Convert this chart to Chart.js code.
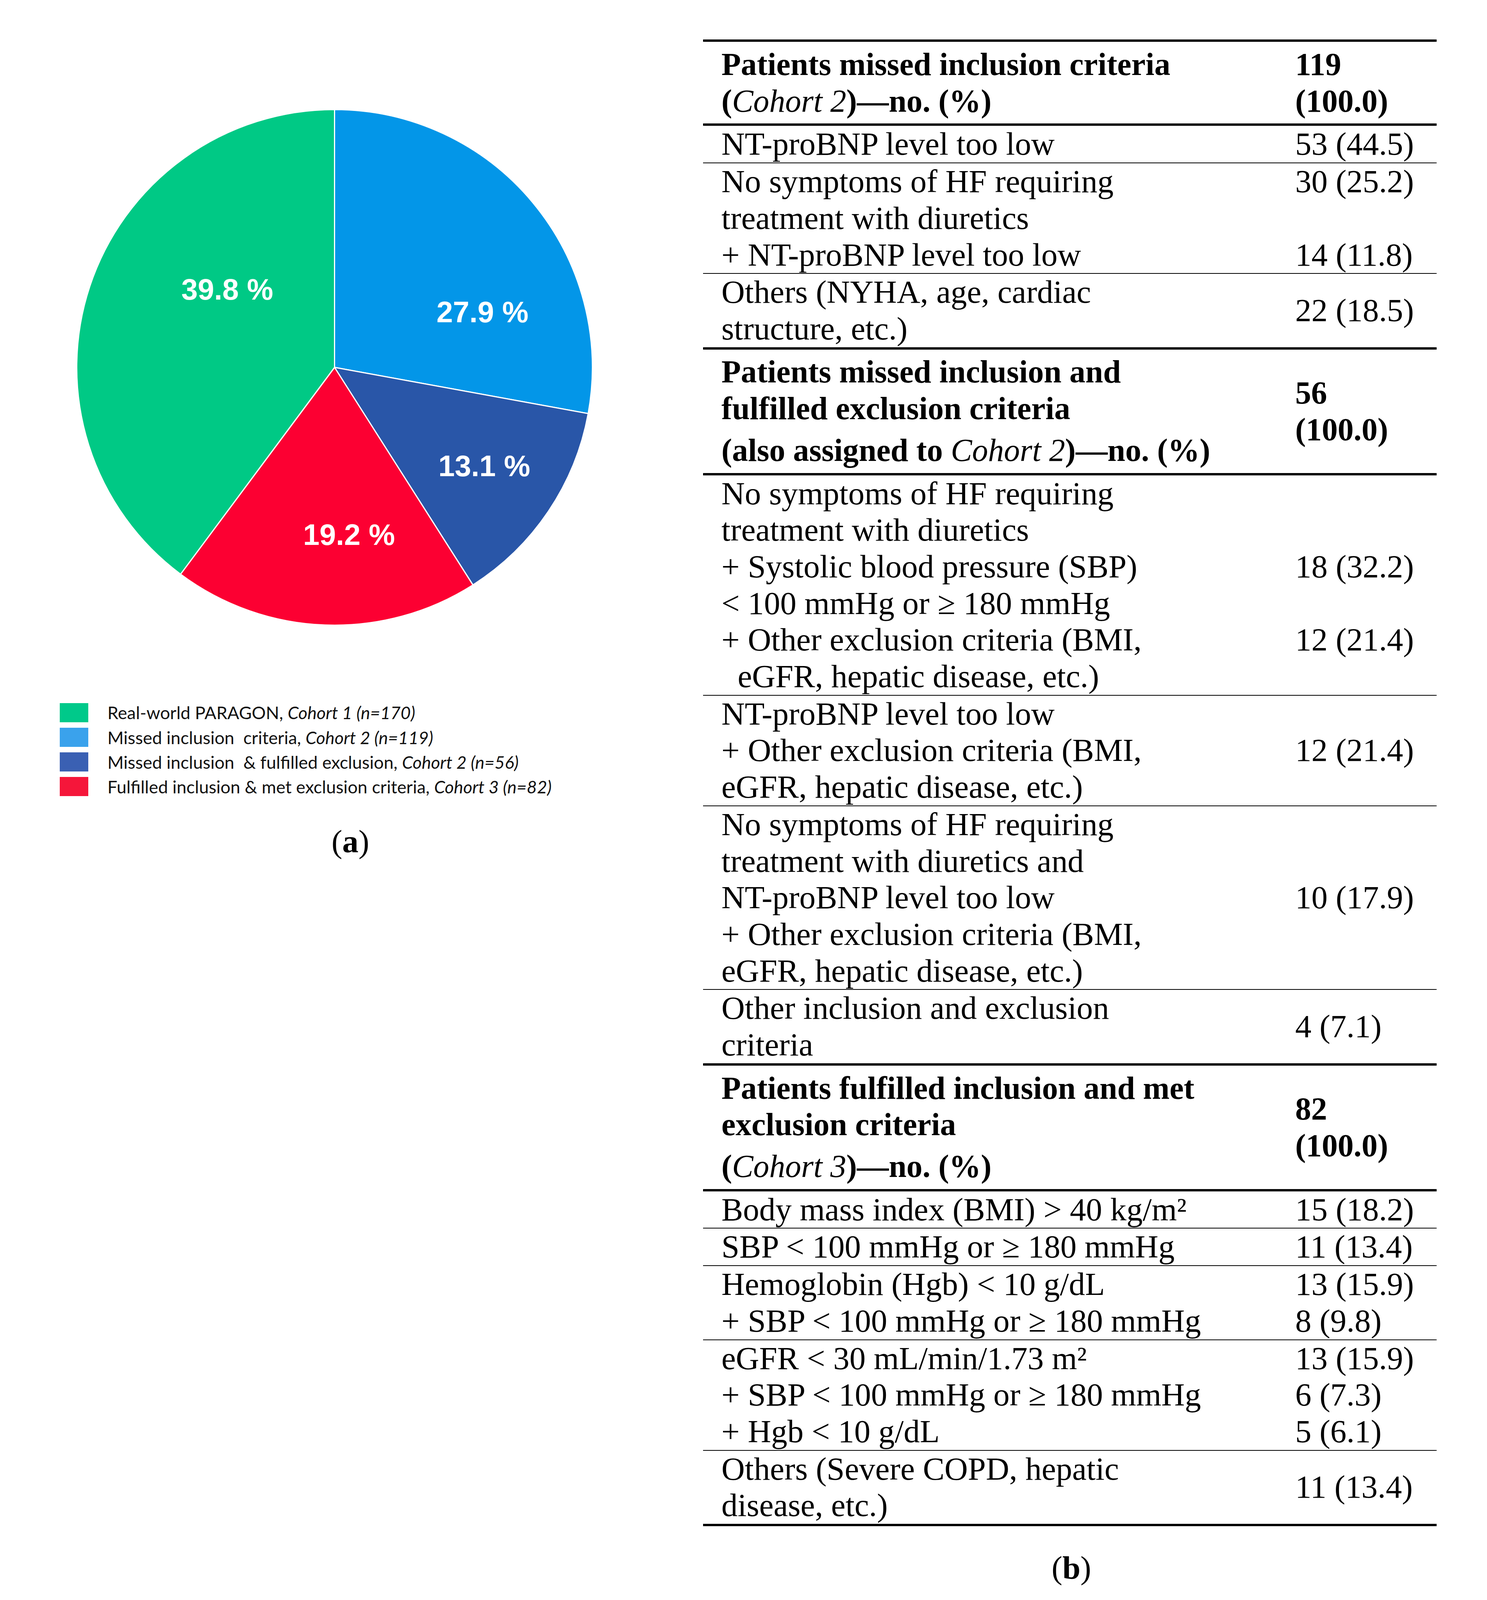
<!DOCTYPE html>
<html>
<head>
<meta charset="utf-8">
<script src="https://cdn.jsdelivr.net/npm/chart.js@4.4.1/dist/chart.umd.min.js"></script>
<style>
  html, body { margin: 0; padding: 0; background: #fff; overflow: hidden; }
  #page { position: relative; width: 100vw; height: 100vh; overflow: hidden; }
  #pie { position: absolute; }
  #legend { position: absolute; font-family: Lato, "Open Sans", sans-serif; color: #111; }
  .lg-row { display: flex; align-items: center; }
  .lg-box { flex: none; }
  .lg-text { white-space: pre; }
  #tbl { position: absolute; font-family: "Liberation Serif", serif; color: #000; }
  .row { display: flex; align-items: center; box-sizing: border-box; border-top: 2px solid #000; }
  .row.thick { border-top-width: 6px; }
  .col-l { box-sizing: border-box; flex: none; }
  .col-r { flex: 1; }
  .line { white-space: pre; }
  .head { font-weight: bold; }
  .head i { font-weight: normal; }
  #tbl-end { border-top: 6px solid #000; }
  .cap { position: absolute; transform: translate(-50%, -50%); font-family: "Liberation Serif", serif; white-space: pre; }
</style>
</head>
<body>
<div id="page">
  <canvas id="pie"></canvas>
  <div id="legend"></div>
  <div class="cap" id="capA">(<b>a</b>)</div>
  <div id="tbl"></div>
  <div class="cap" id="capB">(<b>b</b>)</div>
</div>
<script>
// legend order
const categories = ["Real-world PARAGON", "Missed inclusion  criteria", "Missed inclusion  & fulfilled exclusion", "Fulfilled inclusion & met exclusion criteria"];
const cohorts = ["Cohort 1", "Cohort 2", "Cohort 2", "Cohort 3"];
const patients = [170, 119, 56, 82];
// slices clockwise from 12 o'clock
const pieOrder = [1, 2, 3, 0];

const sliceColors = ["#00C985", "#0396E8", "#2956A8", "#FC0032"];
const legendColors = ["#00C98A", "#3AA2EC", "#3A60B3", "#F5163A"];
// label placement per slice (pie order): angle shift in degrees, distance as share of radius
const labelShift = [20, 0, -7, 17];
const labelDist = [0.61, 0.70, 0.66, 0.51];

// table (b): left column lines, right column lines; *...* is italic
const tableRows = [
  { head: true, left: ["Patients missed inclusion criteria", "(*Cohort 2*)\u2014no. (%)"], right: [String(patients[1]), "(100.0)"] },
  { left: ["NT-proBNP level too low"], right: ["53 (44.5)"] },
  { left: ["No symptoms of HF requiring", "treatment with diuretics", "+ NT-proBNP level too low"], right: ["30 (25.2)", "", "14 (11.8)"] },
  { left: ["Others (NYHA, age, cardiac", "structure, etc.)"], right: ["22 (18.5)"] },
  { head: true, left: ["Patients missed inclusion and", "fulfilled exclusion criteria", "(also assigned to *Cohort 2*)\u2014no. (%)"], right: [String(patients[2]), "(100.0)"] },
  { left: ["No symptoms of HF requiring", "treatment with diuretics", "+ Systolic blood pressure (SBP)", "< 100 mmHg or \u2265 180 mmHg", "+ Other exclusion criteria (BMI,", "  eGFR, hepatic disease, etc.)"], right: ["", "", "18 (32.2)", "", "12 (21.4)", ""] },
  { left: ["NT-proBNP level too low", "+ Other exclusion criteria (BMI,", "eGFR, hepatic disease, etc.)"], right: ["12 (21.4)"] },
  { left: ["No symptoms of HF requiring", "treatment with diuretics and", "NT-proBNP level too low", "+ Other exclusion criteria (BMI,", "eGFR, hepatic disease, etc.)"], right: ["10 (17.9)"] },
  { left: ["Other inclusion and exclusion", "criteria"], right: ["4 (7.1)"] },
  { head: true, left: ["Patients fulfilled inclusion and met", "exclusion criteria", "(*Cohort 3*)\u2014no. (%)"], right: [String(patients[3]), "(100.0)"] },
  { left: ["Body mass index (BMI) > 40 kg/m\u00B2"], right: ["15 (18.2)"] },
  { left: ["SBP < 100 mmHg or \u2265 180 mmHg"], right: ["11 (13.4)"] },
  { left: ["Hemoglobin (Hgb) < 10 g/dL", "+ SBP < 100 mmHg or \u2265 180 mmHg"], right: ["13 (15.9)", "8 (9.8)"] },
  { left: ["eGFR < 30 mL/min/1.73 m\u00B2", "+ SBP < 100 mmHg or \u2265 180 mmHg", "+ Hgb < 10 g/dL"], right: ["13 (15.9)", "6 (7.3)", "5 (6.1)"] },
  { left: ["Others (Severe COPD, hepatic", "disease, etc.)"], right: ["11 (13.4)"] }
];

// the layout is drawn for 3807 x 4939; squeeze vertically if the window is shorter
const ky = Math.min(1, window.innerHeight / 4939);
const ks = Math.sqrt(ky);
const Y = v => v * ky;

function fitFont(font, sample, target) {
  const c = document.createElement("canvas").getContext("2d");
  c.font = font.replace("SIZE", "100px");
  return 100 * target / c.measureText(sample).width;
}

const serif = '"Liberation Serif", serif';
const bodySize = fitFont("SIZE " + serif, "NT-proBNP level too low", 940) * ks;
const headSize = fitFont("bold SIZE " + serif, "Patients missed inclusion criteria", 1262) * ks;
const legendSize = fitFont("SIZE Lato", "Real-world PARAGON, Cohort 1 (n=170)", 880) * ks;

function addText(el, str) {
  str.split("*").forEach((part, k) => {
    if (!part) return;
    if (k % 2 === 1) {
      const it = document.createElement("i");
      it.textContent = part;
      el.appendChild(it);
    } else {
      el.appendChild(document.createTextNode(part));
    }
  });
}

function makeLine(lh) {
  const ln = document.createElement("div");
  ln.className = "line";
  ln.style.height = lh + "px";
  ln.style.lineHeight = lh + "px";
  return ln;
}

function buildTable() {
  const tbl = document.getElementById("tbl");
  tbl.style.left = "1800px";
  tbl.style.top = Y(126) - 3 + "px";
  tbl.style.width = "1878px";
  tbl.style.fontSize = bodySize + "px";
  const lh = Y(113);
  tableRows.forEach((row, r) => {
    const div = document.createElement("div");
    div.className = "row";
    if (row.head || (r > 0 && tableRows[r - 1].head)) div.classList.add("thick");
    if (row.head) {
      div.classList.add("head");
      div.style.fontSize = headSize + "px";
      div.style.padding = Y(13) + "px 0";
    }
    const l = document.createElement("div");
    l.className = "col-l";
    l.style.width = "1516px";
    l.style.paddingLeft = "47px";
    row.left.forEach((t, k) => {
      const ln = makeLine(lh);
      if (row.head && k === 2) ln.style.marginTop = Y(16) + "px";
      addText(ln, t);
      l.appendChild(ln);
    });
    const rc = document.createElement("div");
    rc.className = "col-r";
    row.right.forEach(t => {
      const ln = makeLine(lh);
      ln.textContent = t;
      rc.appendChild(ln);
    });
    div.appendChild(l);
    div.appendChild(rc);
    tbl.appendChild(div);
  });
  const end = document.createElement("div");
  end.id = "tbl-end";
  tbl.appendChild(end);

  const capA = document.getElementById("capA");
  capA.style.left = "897px";
  capA.style.top = Y(2597) + "px";
  capA.style.fontSize = bodySize + "px";
  const capB = document.getElementById("capB");
  capB.style.left = "2743px";
  capB.style.top = Y(4839) + "px";
  capB.style.fontSize = bodySize + "px";
}

function buildLegend() {
  const lg = document.getElementById("legend");
  lg.style.left = "153px";
  lg.style.top = Y(2162) + "px";
  lg.style.fontSize = legendSize + "px";
  categories.forEach((name, i) => {
    const row = document.createElement("div");
    row.className = "lg-row";
    row.style.height = Y(76) + "px";
    const box = document.createElement("div");
    box.className = "lg-box";
    box.style.width = 80 * ks + "px";
    box.style.height = 54 * ks + "px";
    box.style.marginRight = 122 - 80 * ks + "px";
    box.style.background = legendColors[i];
    const txt = document.createElement("div");
    txt.className = "lg-text";
    addText(txt, name + ", *" + cohorts[i] + " (n=" + patients[i] + ")*");
    row.appendChild(box);
    row.appendChild(txt);
    lg.appendChild(row);
  });
}

const pieValues = pieOrder.map(i => patients[i]);
const pieColors = pieOrder.map(i => sliceColors[i]);

const pctLabels = {
  id: "pctLabels",
  afterDatasetsDraw(chart) {
    const ctx = chart.ctx;
    const meta = chart.getDatasetMeta(0);
    const total = pieValues.reduce((a, b) => a + b, 0);
    ctx.save();
    ctx.font = "bold " + 83 * ks + 'px "Liberation Sans", Arial, sans-serif';
    ctx.fillStyle = "#fff";
    ctx.textAlign = "center";
    ctx.textBaseline = "middle";
    meta.data.forEach((arc, i) => {
      const p = arc.getProps(["x", "y", "startAngle", "endAngle", "outerRadius"], true);
      const a = (p.startAngle + p.endAngle) / 2 + labelShift[i] * Math.PI / 180;
      const r = p.outerRadius * labelDist[i];
      ctx.fillText((pieValues[i] / total * 100).toFixed(1) + " %", p.x + Math.cos(a) * r, p.y + Math.sin(a) * r);
    });
    ctx.restore();
  }
};

function createPie() {
  const canvas = document.getElementById("pie");
  const radius = 725 * ks;
  const size = Math.round(2 * radius + 3);
  canvas.width = size;
  canvas.height = size;
  canvas.style.width = size + "px";
  canvas.style.height = size + "px";
  canvas.style.left = 856 - size / 2 + "px";
  canvas.style.top = Y(1134) - size / 2 + "px";
  new Chart(canvas, {
    type: "pie",
    data: {
      labels: pieOrder.map(i => categories[i]),
      datasets: [{
        data: pieValues,
        backgroundColor: pieColors,
        borderColor: "#fff",
        borderWidth: 3
      }]
    },
    options: {
      responsive: false,
      animation: false,
      devicePixelRatio: 1,
      layout: { padding: 0 },
      plugins: {
        legend: { display: false },
        tooltip: { enabled: false }
      }
    },
    plugins: [pctLabels]
  });
}

buildLegend();
buildTable();
createPie();
</script>
</body>
</html>
